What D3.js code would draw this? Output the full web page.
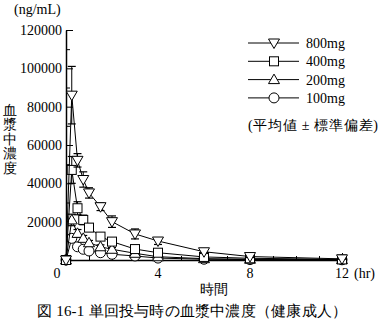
<!DOCTYPE html>
<html><head><meta charset="utf-8">
<script src="https://cdn.jsdelivr.net/npm/d3@7"></script>
<style>body{margin:0;background:#fff}svg{display:block}</style>
</head><body><svg id="c" width="384" height="322"></svg>
<script>
const times = [0, 0.25, 0.5, 0.75, 1, 1.5, 2, 3, 4, 6, 8, 12];
const m800 = [0, 86000, 52000, 42000, 35000, 27800, 20000, 13600, 9900, 4300, 1800, 600];
const sd800 = [0, 15000, 3500, 4000, 2700, 2000, 3000, 2600, 1800, 900, 500, 200];
const m400 = [0, 47000, 27000, 20900, 16900, 12200, 9600, 5700, 3800, 1600, 900, 300];
const sd400 = [0, 7000, 3400, 2500, 2000, 1500, 1500, 1000, 900, 500, 300, 100];
const m200 = [0, 20900, 13900, 11300, 9000, 6900, 5600, 3500, 1700, 700, 400, 200];
const sd200 = [0, 3000, 2000, 1500, 1200, 1000, 900, 700, 500, 300, 150, 100];
const m100 = [0, 11300, 6900, 5600, 4700, 3800, 3000, 2100, 1000, 400, 200, 100];
const sd100 = [0, 2000, 1200, 1000, 800, 600, 500, 400, 300, 150, 100, 50];
const seriesNames = ["800mg", "400mg", "200mg", "100mg"];
const seriesShapes = ["tdown", "square", "tup", "circle"];
const yTicks = [0, 20000, 40000, 60000, 80000, 100000, 120000];
const xTicks = [0, 4, 8, 12];

const SERIF = "serif";
const svg = d3.select("#c");
const x = d3.scaleLinear().domain([0, 12]).range([66, 342]);
const y = d3.scaleLinear().domain([0, 120000]).range([260, 30]);

const series = [
  {name: seriesNames[0], shape: seriesShapes[0], m: m800, sd: sd800},
  {name: seriesNames[1], shape: seriesShapes[1], m: m400, sd: sd400},
  {name: seriesNames[2], shape: seriesShapes[2], m: m200, sd: sd200},
  {name: seriesNames[3], shape: seriesShapes[3], m: m100, sd: sd100}
];

function marker(g, shape, cx, cy) {
  if (shape === "circle") {
    g.append("circle").attr("cx", cx).attr("cy", cy).attr("r", 5)
      .attr("fill", "#fff").attr("stroke", "#000").attr("stroke-width", 1);
  } else if (shape === "square") {
    g.append("rect").attr("x", cx - 4.5).attr("y", cy - 4.5).attr("width", 9).attr("height", 9)
      .attr("fill", "#fff").attr("stroke", "#000").attr("stroke-width", 1);
  } else if (shape === "tup") {
    g.append("path").attr("d", `M${cx},${cy-5.5}L${cx+5.5},${cy+4}L${cx-5.5},${cy+4}Z`)
      .attr("fill", "#fff").attr("stroke", "#000").attr("stroke-width", 1);
  } else {
    g.append("path").attr("d", `M${cx},${cy+5.5}L${cx+5.5},${cy-4}L${cx-5.5},${cy-4}Z`)
      .attr("fill", "#fff").attr("stroke", "#000").attr("stroke-width", 1);
  }
}

function txt(xp, yp, s, size, anchor) {
  return svg.append("text").attr("x", xp).attr("y", yp).attr("font-size", size)
    .attr("text-anchor", anchor || "start").attr("font-family", SERIF).attr("fill", "#000").text(s);
}

// axes
const yAxis = d3.axisRight(y).tickValues(d3.range(0, 120001, 10000)).tickSize(0).tickFormat("");
const gy = svg.append("g").attr("transform", `translate(${x(0)},0)`).call(yAxis);
gy.select(".domain").attr("stroke", "#000").attr("stroke-width", 1.5);
gy.selectAll(".tick line").attr("x2", d => d % 20000 === 0 ? 7 : 4).attr("stroke", "#000");
yTicks.filter(d => d > 0).forEach(d => {
  txt(62, y(d), d, 14, "end").attr("dy", "0.35em");
});

const xAxis = d3.axisTop(x).tickValues(d3.range(0, 13, 1)).tickSize(0).tickFormat("");
const gx = svg.append("g").attr("transform", `translate(0,${y(0)})`).call(xAxis);
gx.select(".domain").attr("stroke", "#000").attr("stroke-width", 1.5);
gx.selectAll(".tick line").attr("y2", d => d % 4 === 0 ? -7 : -4).attr("stroke", "#000");
xTicks.forEach(d => {
  txt(d === 0 ? 57 : x(d), 278, d, 14, "middle");
});
txt(354, 278, "(hr)", 14);
txt(214, 294, "時間", 14, "middle");
txt(14, 14, "(ng/mL)", 14);
["血","漿","中","濃","度"].forEach((c, i) => {
  txt(10, 110 + i * 14.5, c, 14, "middle").attr("dy", "0.35em");
});
txt(37, 316, "図 16-1 単回投与時の血漿中濃度（健康成人）", 15).attr("textLength", 310).attr("lengthAdjust", "spacing");

// series
const line = d3.line().x(d => x(d[0])).y(d => y(d[1]));
series.slice().reverse().forEach(s => {
  const pts = times.map((t, i) => [t, s.m[i], s.sd[i]]);
  const g = svg.append("g");
  g.append("path").attr("d", line(pts)).attr("fill", "none").attr("stroke", "#000").attr("stroke-width", 1);
  pts.forEach(p => {
    if (p[2] > 0) {
      const cx = x(p[0]);
      g.append("line").attr("x1", cx).attr("x2", cx).attr("y1", y(p[1] - p[2])).attr("y2", y(p[1] + p[2]))
        .attr("stroke", "#000").attr("stroke-width", 1);
      [p[1] - p[2], p[1] + p[2]].forEach(v => {
        g.append("line").attr("x1", cx - 4).attr("x2", cx + 4).attr("y1", y(v)).attr("y2", y(v))
          .attr("stroke", "#000").attr("stroke-width", 1.2);
      });
    }
  });
  pts.forEach(p => marker(g, s.shape, x(p[0]), y(p[1])));
});

// legend
series.forEach((s, i) => {
  const ly = 43 + i * 18.3;
  const g = svg.append("g");
  g.append("line").attr("x1", 248).attr("x2", 299).attr("y1", ly).attr("y2", ly).attr("stroke", "#000");
  marker(g, s.shape, 274, ly);
  txt(306, ly, s.name, 14).attr("dy", "0.35em");
});
txt(248, 125, "(平均値 ± 標準偏差)", 14).attr("dy", "0.35em").attr("textLength", 130).attr("lengthAdjust", "spacing");
</script></body></html>
